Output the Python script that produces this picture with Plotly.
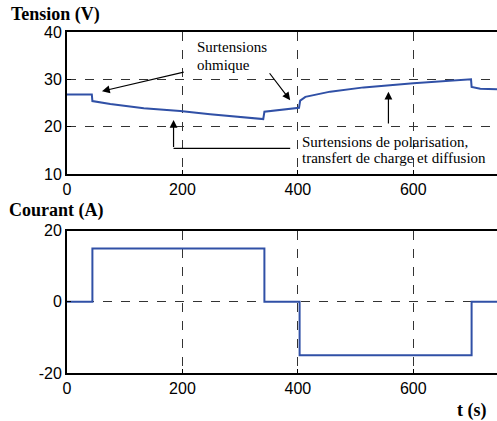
import plotly.graph_objects as go

# ---- data ----
t_voltage = [0, 43, 44, 60, 75, 133, 196, 248, 306, 340, 342, 392, 402, 404, 413, 456, 514, 600, 658, 700, 701, 716, 745]
v_voltage = [26.8, 26.8, 25.4, 25.1, 24.8, 23.9, 23.3, 22.6, 22.0, 21.6, 23.15, 23.9, 24.0, 25.5, 26.3, 27.4, 28.3, 29.15, 29.7, 30.0, 28.4, 28.0, 27.9]

t_current = [0, 44, 342, 403, 701, 745]
i_current = [0, 15, 0, -15, 0, 0]

x_ticks = [0, 200, 400, 600]
v_ticks = [10, 20, 30, 40]
i_ticks = [-20, 0, 20]
i_ticklabels = ["-20", "0", "20"]

W, H = 497, 421
ML, MR, MT, MB = 67, 0, 32, 48
PW, PH = W - ML - MR, H - MT - MB


def px(x):
    return (x - ML) / PW


def py(y):
    return (H - MB - y) / PH


BLUE = "#3050a6"
fig = go.Figure()
fig.add_trace(go.Scatter(x=t_voltage, y=v_voltage, mode="lines",
                         line=dict(color=BLUE, width=2), xaxis="x", yaxis="y",
                         showlegend=False, hoverinfo="skip"))
fig.add_trace(go.Scatter(x=t_current, y=i_current, mode="lines", line_shape="hv",
                         line=dict(color=BLUE, width=2), xaxis="x2", yaxis="y2",
                         showlegend=False, hoverinfo="skip"))

tickfont = dict(family="Liberation Sans", size=16, color="black")
axis_common = dict(showline=True, linecolor="black", linewidth=2,
                   showgrid=True, gridcolor="#333333", gridwidth=1, griddash="dash",
                   ticks="inside", ticklen=4, tickcolor="black", tickfont=tickfont,
                   zeroline=False, automargin=False)

top_lo = (H - MB - 174) / PH
bot_hi = (H - MB - 230.7) / PH

fig.update_layout(
    width=W, height=H,
    margin=dict(l=ML, r=MR, t=MT, b=MB, autoexpand=False),
    plot_bgcolor="white", paper_bgcolor="white",
    xaxis=dict(domain=[0, 1], range=[0, 745], tickvals=x_ticks, anchor="y",
               mirror=True, **axis_common),
    yaxis=dict(domain=[top_lo, 1], range=[10, 40], tickvals=v_ticks, anchor="x",
               **axis_common),
    xaxis2=dict(domain=[0, 1], range=[0, 745], tickvals=x_ticks, anchor="y2",
                mirror=True, **axis_common),
    yaxis2=dict(domain=[0, bot_hi], range=[-20, 20], tickvals=i_ticks,
                ticktext=i_ticklabels, anchor="x2", **axis_common),
)

serif = "Liberation Serif, serif"
labfont = dict(family=serif, size=18, color="black")
txtfont = dict(family=serif, size=15, color="black")

anns = [
    dict(text="<b>Tension (V)</b>", x=px(9), y=py(14), xref="paper", yref="paper",
         xanchor="left", yanchor="middle", showarrow=False, font=labfont),
    dict(text="<b>Courant (A)</b>", x=px(7), y=py(210), xref="paper", yref="paper",
         xanchor="left", yanchor="middle", showarrow=False, font=labfont),
    dict(text="<b>t (s)</b>", x=px(489), y=py(411), xref="paper", yref="paper",
         xanchor="right", yanchor="middle", showarrow=False, font=labfont),
]
texts = [
    ("Surtensions", 221.8, 36.9),
    ("ohmique", 221.8, 33.0),
    ("Surtensions de polarisation,", 404.5, 16.8),
    ("transfert de charge et diffusion", 404.5, 13.3),
]
for txt, tx, ty in texts:
    anns.append(dict(text=txt, x=tx, y=ty, xref="x", yref="y", xanchor="left",
                     yanchor="middle", showarrow=False, font=txtfont))
arrows = [
    ((204.8, 31.6), (60.6, 27.5)),
    ((349, 31.6), (386.7, 25.6)),
    ((556.9, 20.35), (556.9, 27.4)),
    ((184.6, 15.4), (184.6, 21.4)),
]
for (tx, ty), (hx, hy) in arrows:
    anns.append(dict(x=hx, y=hy, ax=tx, ay=ty, xref="x", yref="y", axref="x", ayref="y",
                     text="", showarrow=True, arrowhead=2, arrowsize=1.3,
                     arrowwidth=1.2, arrowcolor="black"))
fig.update_layout(annotations=anns)
fig.add_shape(type="line", x0=184.6, x1=386.7, y0=15.4, y1=15.4, xref="x", yref="y",
              line=dict(color="black", width=1.2))

fig.write_html("out.html", config={"displayModeBar": False},
               post_script="document.body.style.margin='0';")
